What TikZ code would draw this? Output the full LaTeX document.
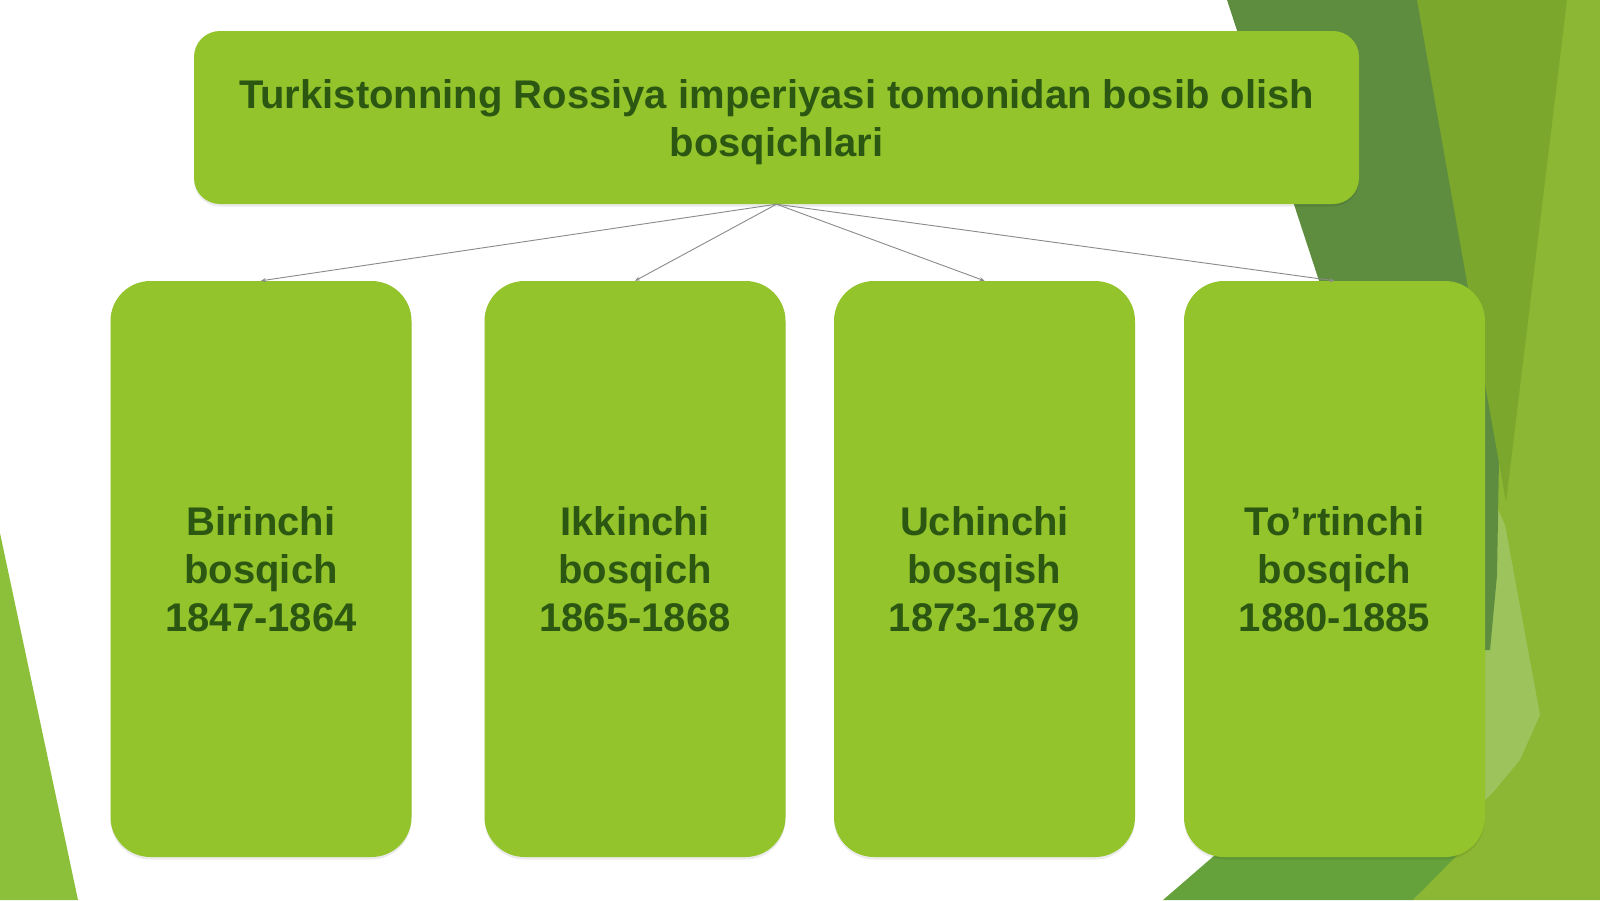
\documentclass[tikz,border=0pt]{standalone}
\usepackage{fontspec}
\setmainfont{Liberation Sans}
\usetikzlibrary{arrows.meta,shadows}
\definecolor{boxgreen}{HTML}{93C42B}
\definecolor{txtgreen}{HTML}{2C5712}
\definecolor{darkbg}{HTML}{5E8D40}
\definecolor{olivebg}{HTML}{7BA72C}
\definecolor{lightbg}{HTML}{8CB734}
\definecolor{palebg}{HTML}{9CC35C}
\definecolor{midbg}{HTML}{66A23C}
\definecolor{leftbg}{HTML}{8DC03A}
\definecolor{linegray}{HTML}{8A8A8A}
\tikzset{
  stagebox/.style={fill=boxgreen, rounded corners=40pt, minimum width=301pt,
    minimum height=576pt, inner sep=0pt, align=center, text=txtgreen,
    font=\fontsize{40}{48}\selectfont\bfseries,
    drop shadow={shadow xshift=0pt, shadow yshift=-2.5pt, opacity=0.08, fill=black}},
  titlebox/.style={fill=boxgreen, rounded corners=26pt, minimum width=1165pt,
    minimum height=173pt, inner sep=0pt,
    drop shadow={shadow xshift=0pt, shadow yshift=-2.5pt, opacity=0.08, fill=black}},
  titletext/.style={inner sep=0pt, align=center, text=txtgreen,
    font=\fontsize{40}{48}\selectfont\bfseries},
  link/.style={draw=linegray, line width=0.9pt, -{Stealth[length=5pt,width=4pt]}}
}
\begin{document}
\begin{tikzpicture}[x=1pt,y=-1pt]
\useasboundingbox (0,0) rectangle (1600,900);
\fill[white] (0,0) rectangle (1600,900);
% background facets
\fill[leftbg] (0,533) -- (78,900) -- (0,900) -- cycle;
\fill[lightbg] (1450,0) -- (1600,0) -- (1600,900) -- (1413,900) -- (1462,848) -- (1470,600) -- cycle;
\fill[midbg] (1163,900) -- (1230,842) -- (1470,842) -- (1413,900) -- cycle;
\fill[palebg] (1485,480) -- (1505,525) -- (1540,715) -- (1520,760) -- (1495,790) -- (1485,800) -- cycle;
\fill[darkbg] (1227,0) -- (1420,0) -- (1500,400) -- (1497,575) -- (1490,650) -- (1440,650) -- cycle;
\fill[olivebg] (1417,0) -- (1567,0) -- (1506,502) -- cycle;
% nodes
\node[titlebox] (top) at (776.5,117.5) {};
\node[titletext] (toptitle) at ([yshift=-5pt]top.center) {Turkistonning Rossiya imperiyasi tomonidan bosib olish\\bosqichlari};
\node[stagebox] (b1) at (261,569) {Birinchi\\bosqich\\1847-1864};
\node[stagebox] (b2) at (635,569) {Ikkinchi\\bosqich\\1865-1868};
\node[stagebox] (b3) at (984.5,569) {Uchinchi\\bosqish\\1873-1879};
\node[stagebox] (b4) at (1334.5,569) {To’rtinchi\\bosqich\\1880-1885};
% connectors
\draw[link] (top.south) -- (b1.north);
\draw[link] (top.south) -- (b2.north);
\draw[link] (top.south) -- (b3.north);
\draw[link] (top.south) -- (b4.north);
\end{tikzpicture}
\end{document}
